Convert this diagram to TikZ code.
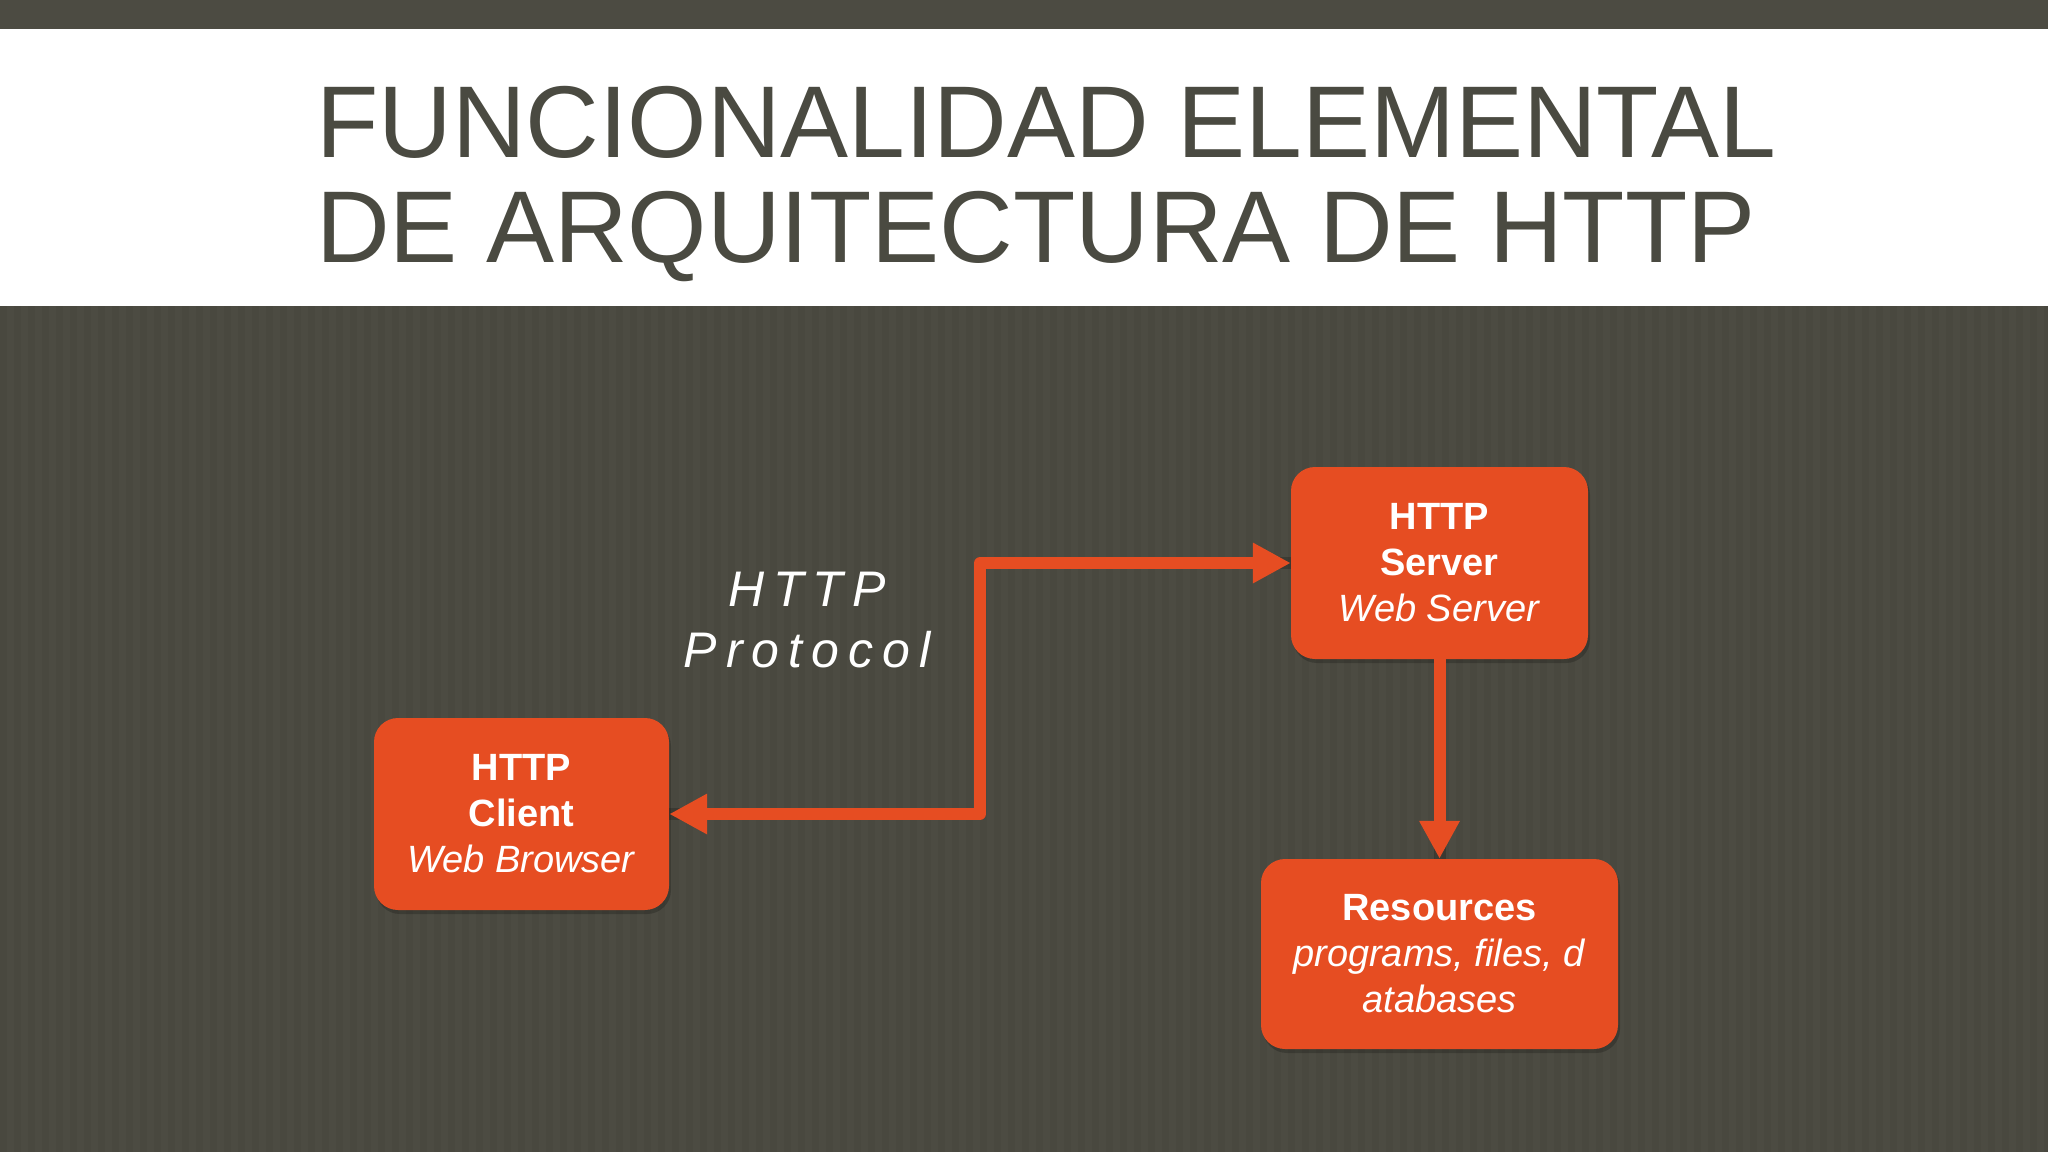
\documentclass[tikz,border=0pt]{standalone}
\usepackage{fontspec}
\setmainfont{Liberation Sans}
\newfontfamily\spacedfont[LetterSpace=18]{Liberation Sans}
\usetikzlibrary{arrows.meta,shadows}
\definecolor{bgdark}{HTML}{4C4B42}
\definecolor{titlegray}{HTML}{4A4A41}
\definecolor{boxorange}{HTML}{E64D22}
\tikzset{
  box/.style={rectangle, rounded corners=24pt, fill=boxorange, text=white, align=center,
    inner sep=0pt, font=\fontsize{38}{46}\selectfont,
    drop shadow={shadow xshift=2pt, shadow yshift=-4pt, opacity=0.2, fill=black}},
  conn/.style={draw=boxorange, line width=12pt, line join=round},
  tipend/.style={-{Triangle[length=38pt,width=38pt]}},
  tipboth/.style={{Triangle[length=38pt,width=38pt]}-{Triangle[length=38pt,width=38pt]}},
  connshadow/.style={draw=black, opacity=0.2, line width=12pt, line join=round},
  titletext/.style={anchor=base west, inner sep=0pt, text=titlegray, font=\fontsize{102}{105}\selectfont}
}
\begin{document}
\begin{tikzpicture}[x=1pt,y=-1pt]
\useasboundingbox (0,0) rectangle (2048,1152);
\fill[bgdark] (0,0) rectangle (2048,1152);
\foreach \x in {0,14,...,2044} {
  \fill[black, opacity=0.035] (\x,306) rectangle ++(7,846);
}
\fill[white] (0,29) rectangle (2048,306);
\node[titletext] (title1) at (316,157) {FUNCIONALIDAD ELEMENTAL};
\node[titletext] (title2) at (316,262) {DE ARQUITECTURA DE HTTP};

\node[box, minimum width=295pt, minimum height=192pt] (client) at (521.5,814)
  {\textbf{HTTP}\\\textbf{Client}\\\textit{Web Browser}};
\node[box, minimum width=297pt, minimum height=192pt] (server) at (1439.5,563)
  {\textbf{HTTP}\\\textbf{Server}\\\textit{Web Server}};
\node[box, minimum width=357pt, minimum height=190pt] (res) at (1439.5,954)
  {\textbf{Resources}\\\textit{programs, files, d}\\\textit{atabases}};

\coordinate (bend) at (980,563);
\node[text=white, align=center, inner sep=0pt, font=\spacedfont\itshape\fontsize{50}{61}\selectfont] (proto) at (807,620)
  {HTTP\\Protocol};

\draw[connshadow, shift={(2pt,-3pt)}] (server.west) -- (bend) |- (client.east);
\draw[connshadow, shift={(2pt,-3pt)}] (server.south) -- (res.north);
\draw[conn, tipboth] (server.west) -- (bend) |- (client.east);
\draw[conn, tipend] (server.south) -- (res.north);
\end{tikzpicture}
\end{document}
